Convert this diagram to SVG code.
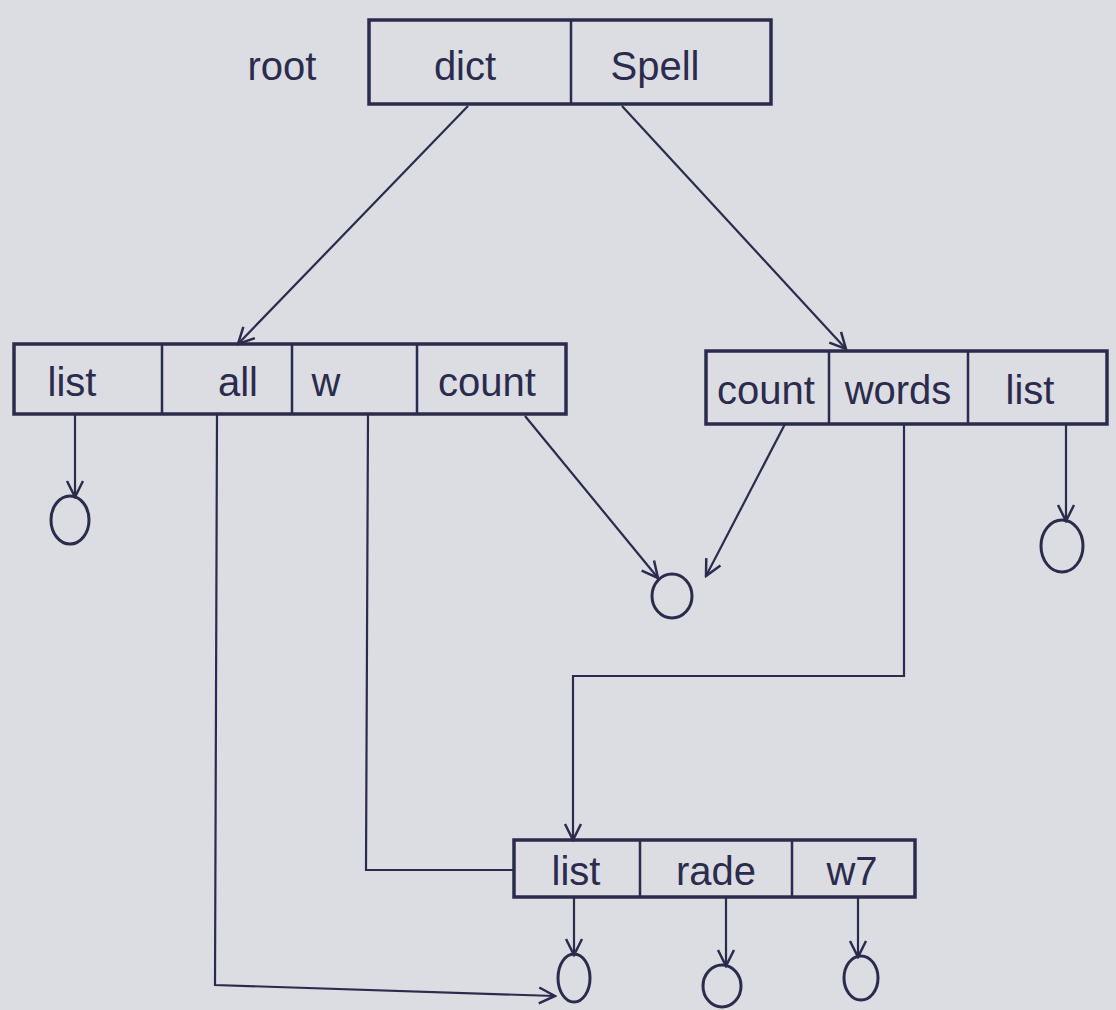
<svg xmlns="http://www.w3.org/2000/svg" width="1116" height="1010" viewBox="0 0 1116 1010">
<defs>
<style>
.bx{fill:none;stroke:#2b2b4d;stroke-width:3.5}
.dv{stroke:#2b2b4d;stroke-width:2.5}
.ln{fill:none;stroke:#2b2b4d;stroke-width:2.2}
.cr{fill:none;stroke:#2b2b4d;stroke-width:3}
.t{font-family:"Liberation Sans",Arial,sans-serif;font-size:40px;fill:#2b2b4d;text-anchor:middle}
</style>
<marker id="ah" viewBox="0 0 20 20" refX="18" refY="10" markerWidth="20" markerHeight="20" markerUnits="userSpaceOnUse" orient="auto">
<path d="M2,2 L18,10 L2,18" fill="none" stroke="#2b2b4d" stroke-width="2.5"/>
</marker>
</defs>
<rect width="1116" height="1010" fill="#dcdde2"/>

<g id="root">
<text class="t" x="282" y="80">root</text>
<rect class="bx" x="369" y="20" width="402" height="84"/>
<line class="dv" x1="571" y1="20" x2="571" y2="104"/>
<text class="t" x="465" y="80">dict</text>
<text class="t" x="655" y="80">Spell</text>
</g>

<g id="left">
<rect class="bx" x="14" y="344" width="552" height="70"/>
<line class="dv" x1="162" y1="344" x2="162" y2="414"/>
<line class="dv" x1="292" y1="344" x2="292" y2="414"/>
<line class="dv" x1="417" y1="344" x2="417" y2="414"/>
<text class="t" x="72" y="396">list</text>
<text class="t" x="238" y="396">all</text>
<text class="t" x="326" y="396">w</text>
<text class="t" x="487" y="396">count</text>
</g>

<g id="right">
<rect class="bx" x="706" y="351" width="401" height="73"/>
<line class="dv" x1="829" y1="351" x2="829" y2="424"/>
<line class="dv" x1="968" y1="351" x2="968" y2="424"/>
<text class="t" x="766" y="404">count</text>
<text class="t" x="898" y="404">words</text>
<text class="t" x="1030" y="404">list</text>
</g>

<g id="bottom">
<rect class="bx" x="514" y="840" width="401" height="57"/>
<line class="dv" x1="640" y1="840" x2="640" y2="897"/>
<line class="dv" x1="792" y1="840" x2="792" y2="897"/>
<text class="t" x="576" y="885">list</text>
<text class="t" x="716" y="885">rade</text>
<text class="t" x="852" y="885">w7</text>
</g>

<g id="nulls">
<ellipse class="cr" cx="70" cy="520" rx="19" ry="24"/>
<ellipse class="cr" cx="672" cy="596" rx="20" ry="22"/>
<ellipse class="cr" cx="1062" cy="546" rx="21" ry="26"/>
<ellipse class="cr" cx="574" cy="978" rx="16" ry="24"/>
<ellipse class="cr" cx="722" cy="986" rx="19" ry="21"/>
<ellipse class="cr" cx="861" cy="978" rx="17" ry="22"/>
</g>

<g id="connectors">
<line class="ln" x1="468" y1="106" x2="238" y2="344" marker-end="url(#ah)"/>
<line class="ln" x1="622" y1="106" x2="846" y2="349" marker-end="url(#ah)"/>
<line class="ln" x1="75" y1="414" x2="75" y2="497" marker-end="url(#ah)"/>
<polyline class="ln" points="217,414 215,985 555,996" marker-end="url(#ah)"/>
<polyline class="ln" points="368,414 366,870 514,870"/>
<line class="ln" x1="525" y1="416" x2="658" y2="578" marker-end="url(#ah)"/>
<line class="ln" x1="785" y1="424" x2="706" y2="576" marker-end="url(#ah)"/>
<polyline class="ln" points="904,424 904,676 573,676 573,840" marker-end="url(#ah)"/>
<line class="ln" x1="1066" y1="424" x2="1066" y2="521" marker-end="url(#ah)"/>
<line class="ln" x1="574" y1="897" x2="574" y2="955" marker-end="url(#ah)"/>
<line class="ln" x1="726" y1="897" x2="726" y2="966" marker-end="url(#ah)"/>
<line class="ln" x1="858" y1="897" x2="858" y2="957" marker-end="url(#ah)"/>
</g>
</svg>
